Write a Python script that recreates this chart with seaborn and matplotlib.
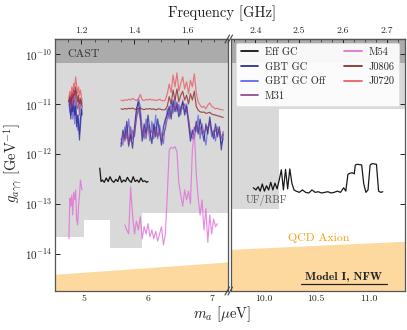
import numpy as np
import pandas as pd
import matplotlib
matplotlib.use("Agg")
import matplotlib.pyplot as plt
import seaborn as sns
from matplotlib.lines import Line2D
from matplotlib.ticker import AutoMinorLocator, NullLocator

nan = np.nan

# ---------------- data ----------------
# grid A (around 1.2 GHz)
mA = [4.77, 4.785, 4.80, 4.815, 4.83, 4.845, 4.86, 4.875, 4.89, 4.905, 4.92, 4.935, 4.95, 4.965, 4.975]
j0720_A = [1.3e-11, 1.8e-11, 1.4e-11, 2.2e-11, 1.6e-11, 2.6e-11, 2.0e-11, 3.5e-11, 2.4e-11, 1.6e-11, 2.2e-11, 1.5e-11, 1.9e-11, 1.4e-11, 1.2e-11]
j0806_A = [1.1e-11, 1.5e-11, 1.0e-11, 1.7e-11, 1.3e-11, 2.0e-11, 1.5e-11, 2.2e-11, 1.6e-11, 1.1e-11, 1.5e-11, 1.0e-11, 1.3e-11, 1.0e-11, 9e-12]
gbt_A = [1.2e-11, 9e-12, 5e-12, 1.0e-11, 7e-12, 1.2e-11, 6e-12, 9e-12, 3.5e-12, 6e-12, 4e-12, 1.9e-12, 5e-12, 8e-12, 6e-12]
gbtoff_A = [1.0e-11, 7e-12, 6e-12, 1.3e-11, 5e-12, 9e-12, 4e-12, 1.1e-11, 5e-12, 3e-12, 6e-12, 2.5e-12, 3.5e-12, 6e-12, 9e-12]
m31_A = [1.1e-11, 1.4e-11, 8e-12, 1.5e-11, 9e-12, 1.6e-11, 1.1e-11, 1.8e-11, 9e-12, 8e-12, 1.2e-11, 6e-12, 1e-11, 1.2e-11, 1.0e-11]
m54_A = [2e-14, 1.3e-13, 9e-14, 1.5e-13, 6e-14, 1.7e-13, 1.2e-13, 1.9e-13, 5e-14, 3.8e-14, 9e-14, 1.5e-13, 3e-13, 2.2e-13, 1.9e-13]

# grid B (1.35 - 1.73 GHz)
mB = [5.58, 5.61, 5.64, 5.67, 5.70, 5.73, 5.76, 5.79, 5.82, 5.85, 5.88, 5.91, 5.94, 5.97,
      6.00, 6.03, 6.06, 6.09, 6.12, 6.15, 6.18, 6.21, 6.24, 6.27, 6.30, 6.33, 6.36, 6.39,
      6.42, 6.45, 6.48, 6.51, 6.54, 6.57, 6.60, 6.63, 6.66, 6.69, 6.72, 6.75, 6.78, 6.81,
      6.84, 6.87, 6.90, 6.93, 6.96, 6.99, 7.02, 7.05, 7.08, 7.11, 7.14, 7.17]
j0720_B = [1.2e-11, 1.15e-11, 1.22e-11, 1.18e-11, 1.25e-11, 1.2e-11, 1.3e-11, 1.22e-11, 1.17e-11, 1.25e-11,
           1.55e-11, 1.2e-11, 1.18e-11, 1.23e-11, 1.2e-11, 1.26e-11, 1.19e-11, 1.22e-11, 1.17e-11, 1.2e-11,
           1.24e-11, 1.18e-11, 1.15e-11, 1.2e-11,
           1.6e-11, 2.5e-11, 1.7e-11, 3.8e-11, 2.2e-11, 4.2e-11, 1.8e-11, 2.6e-11, 3.5e-11, 2.0e-11,
           2.8e-11, 1.6e-11, 3.0e-11, 2.2e-11, 4.0e-11, 1.7e-11,
           1.1e-11, 9.5e-12, 8.5e-12, 9e-12, 8e-12, 9.5e-12, 1.05e-11, 9e-12, 8.5e-12, 8e-12,
           8.2e-12, 7.8e-12, 7.7e-12, 7.6e-12]
j0806_B = [8e-12, 7.8e-12, 8.1e-12, 7.9e-12, 8.2e-12, 8e-12, 8.3e-12, 7.9e-12, 7.8e-12, 8.1e-12,
           8.4e-12, 7.9e-12, 7.7e-12, 8e-12, 7.9e-12, 8.1e-12, 7.8e-12, 8e-12, 7.6e-12, 7.9e-12,
           8e-12, 7.7e-12, 7.6e-12, 7.8e-12,
           9e-12, 1.4e-11, 1.0e-11, 1.9e-11, 1.2e-11, 2.0e-11, 1.1e-11, 1.5e-11, 1.8e-11, 1.2e-11,
           1.5e-11, 1.0e-11, 1.6e-11, 1.2e-11, 1.8e-11, 9e-12,
           7.5e-12, 7e-12, 6.8e-12, 6.9e-12, 6.5e-12, 6.6e-12, 6.8e-12, 6.3e-12, 6.1e-12, 6e-12,
           5.8e-12, 5.7e-12, 5.5e-12, 5.4e-12]
gbt_B = [1.4e-12, 3e-12, 2e-12, 4.5e-12, 1.5e-12, 2.5e-12, 1.3e-12, 3.5e-12,
         8e-12, 1.1e-11, 6e-12, 1.8e-12,
         4e-12, 2.5e-12, 6e-12, 3e-12, 1.6e-12, 4e-12, 2.2e-12, 5e-12, 2.8e-12, 1.5e-12, 3.5e-12, 5e-12,
         6e-12, 9e-12, 5e-12, 1.2e-11, 7e-12, 1.0e-11, 5.5e-12, 8e-12, 1.1e-11, 6e-12, 9e-12, 4e-12, 1.8e-12,
         3e-12, 2e-12, 4.5e-12, 2.5e-12, 5e-12, 3e-12, 1.8e-12, 4e-12, 2.5e-12, 5.5e-12, 3e-12, 2e-12,
         4e-12, 2.2e-12, 3.5e-12, 1.2e-12, 2.5e-12]
gbtoff_B = [2e-12, 1.5e-12, 3.5e-12, 2e-12, 5e-12, 1.8e-12, 3e-12, 2.2e-12,
            6e-12, 1.3e-11, 9e-12, 3e-12,
            2e-12, 5e-12, 3.5e-12, 1.8e-12, 4.5e-12, 2.5e-12, 6e-12, 2e-12, 3.8e-12, 2.4e-12, 1.6e-12, 4e-12,
            8e-12, 5e-12, 1.1e-11, 6.5e-12, 1.3e-11, 7e-12, 1.0e-11, 6e-12, 1.2e-11, 7e-12, 1.0e-11, 5e-12, 2.5e-12,
            2e-12, 3.5e-12, 2.8e-12, 6e-12, 2e-12, 4e-12, 2.6e-12, 1.5e-12, 3.2e-12, 4.5e-12, 2.2e-12, 3e-12,
            1.8e-12, 3.5e-12, 2.5e-12, 1.6e-12, 2e-12]
m31_B = [1.6e-12, 2.5e-12, 1.8e-12, 3e-12, 1.4e-12, 3.5e-12, 2e-12, 2.5e-12,
         5e-12, 8e-12, 5e-12, 2.5e-12,
         3e-12, 2e-12, 4e-12, 2.5e-12, 3e-12, 2e-12, 3.5e-12, 2.2e-12, 2.8e-12, 1.8e-12, 2.5e-12, 3.2e-12,
         5e-12, 7e-12, 6e-12, 9e-12, 8e-12, 1.1e-11, 7e-12, 9e-12, 8e-12, 1.0e-11, 7e-12, 5e-12, 2.5e-12,
         2.5e-12, 3e-12, 4e-12, 3e-12, 3.5e-12, 2.5e-12, 2.8e-12, 3e-12, 3.5e-12, 4e-12, 2.8e-12, 2.5e-12,
         3e-12, 2.6e-12, 3.2e-12, 2e-12, 2.8e-12]
m54_B = [nan, nan,
         3.8e-14, 3e-14, 2.5e-14, 2.2e-13,
         6e-14, 2.5e-14, 4.5e-14, 3e-14, 5.5e-14, 2e-14, 3.5e-14, 2.5e-14, 4e-14, 2.2e-14, 3e-14, 2e-14,
         2.8e-14, 1.8e-14, 2.5e-14, 3.5e-14, 1.5e-14, 2.5e-14,
         1.5e-13, 1.2e-12, 1.35e-12, 1.3e-12, 1.4e-12, 1.1e-12,
         2.6e-13, 1.5e-13, 9e-14, 1.9e-13, 1.2e-13, 1.8e-13,
         1e-13, 1.2e-12, 3e-12, 4e-13,
         1.3e-13, 6e-14, 1.2e-13, 3e-14, 8e-14, 1.7e-14, 6e-14, 2.5e-14, 5e-14, 3.5e-14, 4e-14,
         nan, nan, nan]

# Eff GC (left and right panels)
mC = [5.25, 5.27, 5.29, 5.32, 5.35, 5.38, 5.41, 5.44, 5.47, 5.50, 5.53, 5.56, 5.59, 5.62,
      5.65, 5.68, 5.71, 5.74, 5.77, 5.80, 5.83, 5.86, 5.89, 5.92, 5.95, 5.98, 6.0]
eff_C = [5.2e-13, 2.8e-13, 3.0e-13, 2.7e-13, 3.3e-13, 2.8e-13, 3.5e-13, 2.9e-13, 2.7e-13, 3.1e-13,
         2.8e-13, 3.6e-13, 2.7e-13, 3.0e-13, 2.8e-13, 3.4e-13, 2.9e-13, 2.7e-13, 3.5e-13, 2.8e-13,
         3.0e-13, 2.7e-13, 3.3e-13, 2.8e-13, 2.9e-13, 2.7e-13, 2.8e-13]
mD = [9.905, 9.93, 9.95, 9.97, 9.99, 10.01, 10.03, 10.05, 10.07, 10.09, 10.11, 10.13, 10.15, 10.17,
      10.19, 10.21, 10.23, 10.25, 10.27, 10.29, 10.31, 10.34, 10.37, 10.40, 10.43, 10.46, 10.49,
      10.52, 10.55, 10.58, 10.61, 10.64, 10.67, 10.70, 10.73, 10.76, 10.78, 10.80, 10.82, 10.84,
      10.86, 10.87, 10.89, 10.91, 10.93, 10.95, 10.97, 10.99, 11.01, 11.03, 11.05, 11.07, 11.09,
      11.11, 11.13]
eff_D = [2.1e-13, 1.9e-13, 2.2e-13, 1.8e-13, 2.5e-13, 1.8e-13, 2.3e-13, 1.9e-13, 2.7e-13, 1.9e-13,
         2.6e-13, 2.0e-13, 3.0e-13, 4.8e-13, 1.9e-13, 4.9e-13, 2.0e-13, 5.0e-13, 2.6e-13, 1.9e-13,
         1.8e-13, 1.7e-13, 1.9e-13, 1.7e-13, 1.65e-13, 1.9e-13, 1.7e-13, 1.75e-13, 1.65e-13, 1.7e-13,
         1.75e-13, 1.65e-13, 1.7e-13, 1.8e-13, 1.7e-13, 2.1e-13, 1.8e-13, 3.9e-13, 4.1e-13, 4.2e-13,
         4.0e-13, 6.0e-13, 6.2e-13, 6.1e-13, 6.0e-13, 2.5e-13, 1.7e-13, 1.9e-13, 6.0e-13, 6.4e-13,
         6.3e-13, 6.2e-13, 1.8e-13, 1.7e-13, 1.75e-13]

# exclusion regions
cast_g = 6.6e-11
haloL_m = [4.554, 5.0, 5.41, 5.90, 7.244]
haloL_lo = [2.2e-14, 4.7e-14, 1.3e-14, 6.7e-14, 6.7e-14]
haloR_m = [9.694, 10.15, 11.34]
haloR_lo = [8e-14, 8e-12, 8e-12]
qcd_m = [4.554, 7.244, 9.694, 11.34]
qcd_top = [3.8e-15, 6.7e-15, 1.2e-14, 1.74e-14]

labels = ["Eff GC", "GBT GC", "GBT GC Off", "M31", "M54", "J0806", "J0720"]
colors = {"Eff GC": "black", "GBT GC": "#1f1f85", "GBT GC Off": "#5a5ae6", "M31": "#8a3f8a",
          "M54": "#e066d6", "J0806": "#8b1c1c", "J0720": "#e8525a"}

GHZ_PER_UEV = 0.241799

# ---------------- figure ----------------
sns.set_theme(style="ticks")
plt.rcParams.update({
    "font.family": ["serif"],
    "font.serif": ["cmr10"],
    "mathtext.fontset": "cm",
    "axes.formatter.use_mathtext": True,
})

W, H = 407, 330
fig = plt.figure(figsize=(W / 100, H / 100), dpi=100)
axL = fig.add_axes([55 / W, 39 / H, 173 / W, 252 / H])
axR = fig.add_axes([231 / W, 39 / H, 174 / W, 252 / H])

for ax, hm, hlo, xl in [(axL, haloL_m, haloL_lo, (4.554, 7.244)), (axR, haloR_m, haloR_lo, (9.694, 11.34))]:
    ax.set_yscale("log")
    ax.set_xlim(*xl)
    ax.set_ylim(1.8e-15, 2e-10)
    ax.set_facecolor("white")
    ax.fill_between(hm, hlo, cast_g, step="post", color="#d9d9d9", lw=0, zorder=0)
    ax.axhspan(cast_g, 1e-9, color="#ababab", lw=0, zorder=0)
    ax.fill_between(qcd_m, 1e-16, qcd_top, color="#fdd9a0", lw=0, zorder=1)


def seg(ax, x, y, name, lw=0.85, alpha=0.75, z=3):
    df = pd.DataFrame({"m": x, "g": y}).dropna()
    sns.lineplot(data=df, x="m", y="g", ax=ax, color=colors[name], lw=lw, alpha=alpha,
                 estimator=None, sort=False, legend=False, zorder=z)


for x, series in [(mA, {"GBT GC Off": gbtoff_A, "GBT GC": gbt_A, "M31": m31_A, "J0806": j0806_A, "J0720": j0720_A, "M54": m54_A}),
                  (mB, {"GBT GC Off": gbtoff_B, "GBT GC": gbt_B, "M31": m31_B, "J0806": j0806_B, "J0720": j0720_B, "M54": m54_B})]:
    for name, y in series.items():
        seg(axL, x, y, name)
seg(axL, mC, eff_C, "Eff GC", lw=0.9, alpha=0.9, z=4)
seg(axR, mD, eff_D, "Eff GC", lw=0.9, alpha=0.9, z=4)

# ticks
yt = [1e-10, 1e-11, 1e-12, 1e-13, 1e-14]
ytl = [r"$10^{-10}$", r"$10^{-11}$", r"$10^{-12}$", r"$10^{-13}$", r"$10^{-14}$"]
for ax in (axL, axR):
    ax.set_xlabel("")
    ax.set_ylabel("")
    ax.set_yticks(yt)
    ax.yaxis.set_minor_locator(NullLocator())
    ax.xaxis.set_minor_locator(AutoMinorLocator(5))
    ax.tick_params(axis="both", which="both", direction="in", colors="#222222", labelsize=7, top=False)
    ax.tick_params(axis="x", pad=2.5)
    ax.tick_params(which="major", length=3.5, width=0.7)
    ax.tick_params(which="minor", length=2, width=0.5)
    for s in ax.spines.values():
        s.set_color("#555555")
        s.set_linewidth(0.9)
axL.set_yticklabels(ytl, fontsize=8)
axL.tick_params(axis="y", left=True, right=False, pad=2)
axR.tick_params(axis="y", left=False, right=True, labelleft=False, labelright=False)
axL.set_xticks([5, 6, 7])
axL.set_xticklabels(["5", "6", "7"])
axR.set_xticks([10.0, 10.5, 11.0])
axR.set_xticklabels(["10.0", "10.5", "11.0"])


def m2f(m):
    return np.asarray(m) * GHZ_PER_UEV


def f2m(f):
    return np.asarray(f) / GHZ_PER_UEV


for ax, ft in [(axL, [1.2, 1.4, 1.6]), (axR, [2.4, 2.5, 2.6, 2.7])]:
    sec = ax.secondary_xaxis("top", functions=(m2f, f2m))
    sec.set_xticks(ft)
    sec.set_xticklabels([f"{v:.1f}" for v in ft])
    sec.xaxis.set_minor_locator(AutoMinorLocator(4))
    sec.tick_params(axis="x", which="both", direction="in", colors="#222222", labelsize=7, pad=3)
    sec.tick_params(which="major", length=3.5, width=0.7)
    sec.tick_params(which="minor", length=2, width=0.5)
    for s in sec.spines.values():
        s.set_color("#555555")
        s.set_linewidth(0.9)

# annotations
axL.text(4.745, 9.9e-11, "CAST", fontsize=8.5, color="#333333", va="center", ha="left", zorder=6)
axR.text(9.83, 1.15e-13, "UF/RBF", fontsize=7.5, color="#555555", va="center", ha="left", zorder=6)
axR.text(10.52, 2.1e-14, "QCD Axion", fontsize=8.5, color="#f5a31a", va="center", ha="center", zorder=6)
axR.text(10.763, 3.5e-15, "Model I, NFW", fontsize=8.5, family="cmb10", color="#222222",
         va="center", ha="center", zorder=6)
axR.plot([0.402, 0.897], [0.028, 0.028], transform=axR.transAxes, color="#222222", lw=0.9, zorder=6)

# legend
handles = [Line2D([], [], color=colors[n], lw=1.2) for n in labels]
leg = axR.legend(handles=handles, labels=labels, ncol=2, loc="upper left",
                 bbox_to_anchor=(0.028, 0.985), borderaxespad=0, fontsize=7.5,
                 handlelength=1.7, handletextpad=0.6, columnspacing=1.9,
                 labelspacing=0.5, borderpad=0.45, frameon=True, fancybox=True, framealpha=0.92)
leg.get_frame().set_edgecolor("#e0e0e0")
leg.get_frame().set_linewidth(0.6)
leg.set_zorder(10)

# labels
fig.text(222 / W, 1 - 13 / H, "Frequency [GHz]", fontsize=10.5, ha="center", va="center", color="#222222")
fig.text(222 / W, 1 - 314 / H, r"$m_a\ [\mu\mathrm{eV}]$", fontsize=10.5, ha="center", va="center", color="#222222")
fig.text(13 / W, 1 - 163 / H, r"$g_{a\gamma\gamma}\ [\mathrm{GeV}^{-1}]$", fontsize=10.5, rotation=90,
         ha="center", va="center", color="#222222")

# axis break marks
for py in (291, 39):
    for dx in (0, 3):
        x1, y1 = 225 + dx, py + 4
        x2, y2 = 229.5 + dx, py - 4
        fig.add_artist(Line2D([x1 / W, x2 / W], [1 - y1 / H, 1 - y2 / H], transform=fig.transFigure,
                              color="#444444", lw=0.8, clip_on=False))

fig.savefig("out.png", dpi=100)
